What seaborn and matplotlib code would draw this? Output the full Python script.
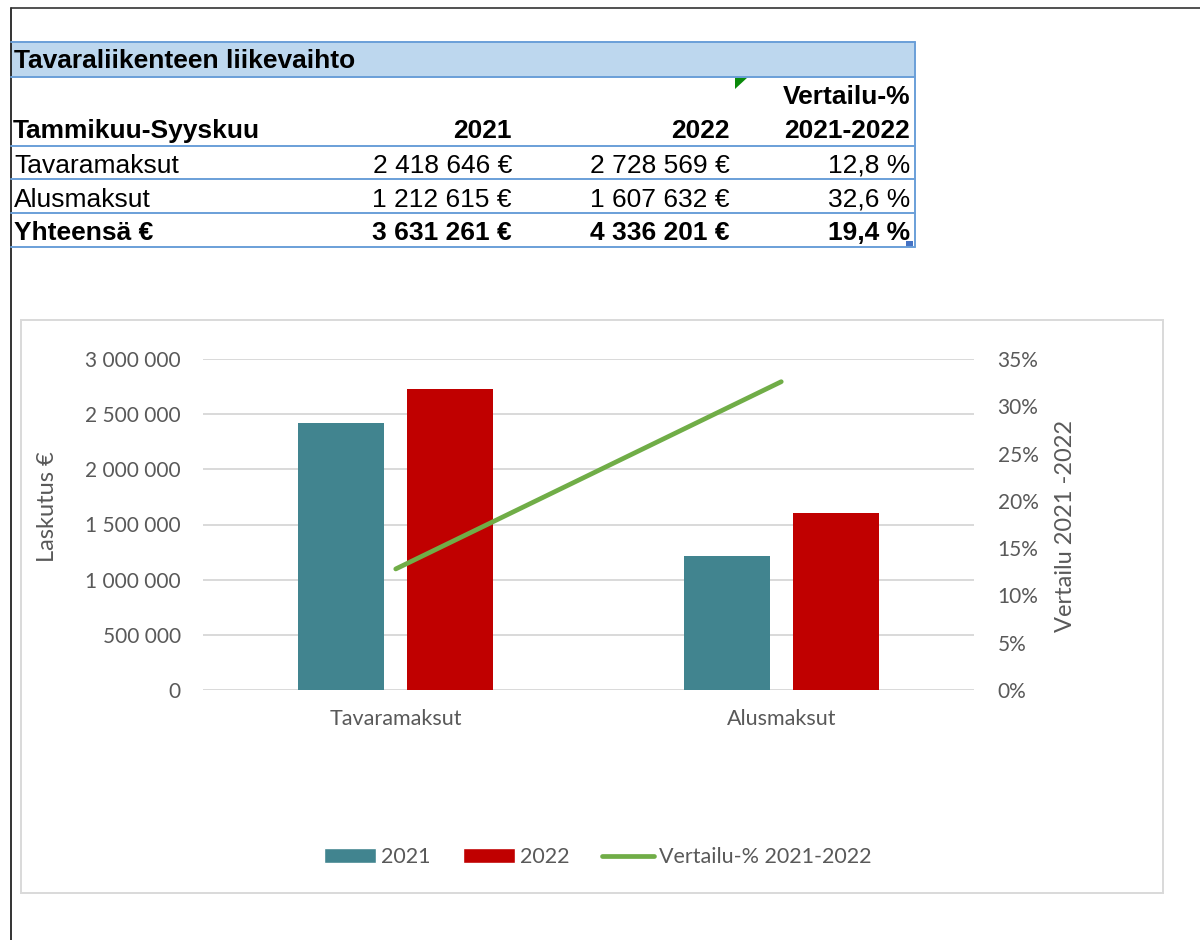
import numpy as np
import pandas as pd
import matplotlib
matplotlib.use('Agg')
import matplotlib.pyplot as plt
from matplotlib.patches import Rectangle, Polygon
from matplotlib.ticker import FuncFormatter, PercentFormatter
from matplotlib.lines import Line2D
import seaborn as sns

# taulukon / kuvion tiedot
otsikko = 'Tavaraliikenteen liikevaihto'
jakso = 'Tammikuu-Syyskuu'
kategoriat = ['Tavaramaksut', 'Alusmaksut']
vuodet = ['2021', '2022']
arvot_2021 = [2418646, 1212615]
arvot_2022 = [2728569, 1607632]
vertailu = [0.128, 0.326]
vertailu_yht = 0.194
sarake_vertailu = ['Vertailu-%', '2021-2022']
legend_viiva = 'Vertailu-% 2021-2022'

teal = '#41848F'
punainen = '#C00000'
vihrea = '#70AD47'
harmaa_teksti = '#595959'
ruudukko = '#D9D9D9'
sininen_viiva = '#6A9FD8'

df = pd.DataFrame({
    'kategoria': kategoriat * 2,
    'vuosi': [vuodet[0]] * 2 + [vuodet[1]] * 2,
    'arvo': arvot_2021 + arvot_2022,
})

sns.set_theme(style='white')
plt.rcParams['font.family'] = ['Lato', 'DejaVu Sans']

W, H = 1200, 940
fig = plt.figure(figsize=(W / 100, H / 100), dpi=100)

# taustakerros pikseleissä: taulukko ja reunat
bg = fig.add_axes([0, 0, 1, 1], zorder=0)
bg.set_xlim(0, W)
bg.set_ylim(H, 0)
bg.axis('off')

bg.plot([10.5, 10.5], [8, H], color='#111111', lw=1.2)
bg.plot([10.5, W], [8, 8], color='#333333', lw=1.2)

bg.add_patch(Rectangle((11, 42), 904, 35, facecolor='#BDD7EE', edgecolor='none'))
for yy in [42, 77, 146, 179, 213, 247]:
    bg.plot([11, 915], [yy, yy], color=sininen_viiva, lw=1.4)
bg.plot([915, 915], [42, 247], color=sininen_viiva, lw=1.4)
bg.add_patch(Polygon([(735, 77), (748, 77), (735, 89)], closed=True,
                     facecolor='#0A8A0A', edgecolor='none'))
bg.add_patch(Rectangle((906, 241), 7, 6, facecolor='#4472C4', edgecolor='none'))

tfont = ['Liberation Sans', 'DejaVu Sans']
fs = 19
tk = dict(fontsize=fs, family=tfont, va='baseline', color='black')
bg.text(14, 68, otsikko, fontweight='bold', **tk)
bg.text(910, 104, sarake_vertailu[0], fontweight='bold', ha='right', **tk)
bg.text(13, 138, jakso, fontweight='bold', **tk)
bg.text(512, 138, vuodet[0], fontweight='bold', ha='right', **tk)
bg.text(730, 138, vuodet[1], fontweight='bold', ha='right', **tk)
bg.text(910, 138, sarake_vertailu[1], fontweight='bold', ha='right', **tk)


def euro(v):
    return f'{v:,.0f} €'.replace(',', ' ')


def pros(p):
    return f'{p * 100:.1f} %'.replace('.', ',')


rivit = list(zip(kategoriat, arvot_2021, arvot_2022, vertailu))
rivit.append(('Yhteensä €', sum(arvot_2021), sum(arvot_2022), vertailu_yht))
for i, (nimi, a, b, p) in enumerate(rivit):
    yb = [173, 207, 240][i]
    fw = 'bold' if i == 2 else 'normal'
    bg.text(14, yb, nimi, fontweight=fw, **tk)
    bg.text(512, yb, euro(a), fontweight=fw, ha='right', **tk)
    bg.text(730, yb, euro(b), fontweight=fw, ha='right', **tk)
    bg.text(910, yb, pros(p), fontweight=fw, ha='right', **tk)

# kaavion kehys
bg.add_patch(Rectangle((21, 320), 1142, 573, facecolor='white', edgecolor=ruudukko, lw=1.4))

# kaavio
x0, x1, ytop, ybot = 203, 974, 359, 690
ax = fig.add_axes([x0 / W, 1 - ybot / H, (x1 - x0) / W, (ybot - ytop) / H], zorder=2)
ax.patch.set_alpha(0)

sns.barplot(data=df, x='kategoria', y='arvo', hue='vuosi', hue_order=vuodet,
            palette=[teal, punainen], width=0.566, gap=0.21, saturation=1,
            errorbar=None, linewidth=0, legend=False, ax=ax)
ax.set_xlim(-0.5, len(kategoriat) - 0.5)
ax.set_ylim(0, 3000000)
ax.set_yticks(np.arange(0, 3000001, 500000))
ax.yaxis.set_major_formatter(FuncFormatter(lambda v, _: f'{v:,.0f}'.replace(',', ' ')))
ax.grid(axis='y', color=ruudukko, lw=1.4)
ax.set_axisbelow(True)
for s in ax.spines.values():
    s.set_visible(False)
ax.tick_params(axis='y', length=0, pad=16, labelsize=15, labelcolor=harmaa_teksti)
ax.tick_params(axis='x', length=0, pad=14, labelsize=15.5, labelcolor=harmaa_teksti)
ax.set_xlabel('')
ax.set_ylabel('Laskutus €', fontsize=17, color=harmaa_teksti)
ax.yaxis.set_label_coords((47 - x0) / (x1 - x0), (ybot - 507) / (ybot - ytop))
ax.yaxis.label.set_va('center')

ax2 = ax.twinx()
sns.lineplot(x=np.arange(len(kategoriat)), y=vertailu, color=vihrea, lw=3.4,
             solid_capstyle='round', ax=ax2)
ax2.set_ylim(0, 0.35)
ax2.set_yticks(np.arange(0, 0.351, 0.05))
ax2.yaxis.set_major_formatter(PercentFormatter(1.0, decimals=0))
ax2.tick_params(axis='y', length=0, pad=17, labelsize=15, labelcolor=harmaa_teksti)
for s in ax2.spines.values():
    s.set_visible(False)
ax2.grid(False)
ax2.set_ylabel('Vertailu 2021 -2022', fontsize=17, color=harmaa_teksti)
ax2.yaxis.set_label_coords((1065 - x0) / (x1 - x0), (ybot - 526) / (ybot - ytop))
ax2.yaxis.label.set_va('center')

kahvat = [Rectangle((0, 0), 1, 1, facecolor=teal),
          Rectangle((0, 0), 1, 1, facecolor=punainen),
          Line2D([], [], color=vihrea, lw=3.4, solid_capstyle='round')]
fig.legend(kahvat, vuodet + [legend_viiva], loc='center', ncol=3,
           bbox_to_anchor=(598 / W, 1 - 857 / H), frameon=False, fontsize=15.5,
           labelcolor=harmaa_teksti, handlelength=2.4, handleheight=0.65,
           handletextpad=0.25, columnspacing=1.5)

fig.savefig('out.png', dpi=100)
